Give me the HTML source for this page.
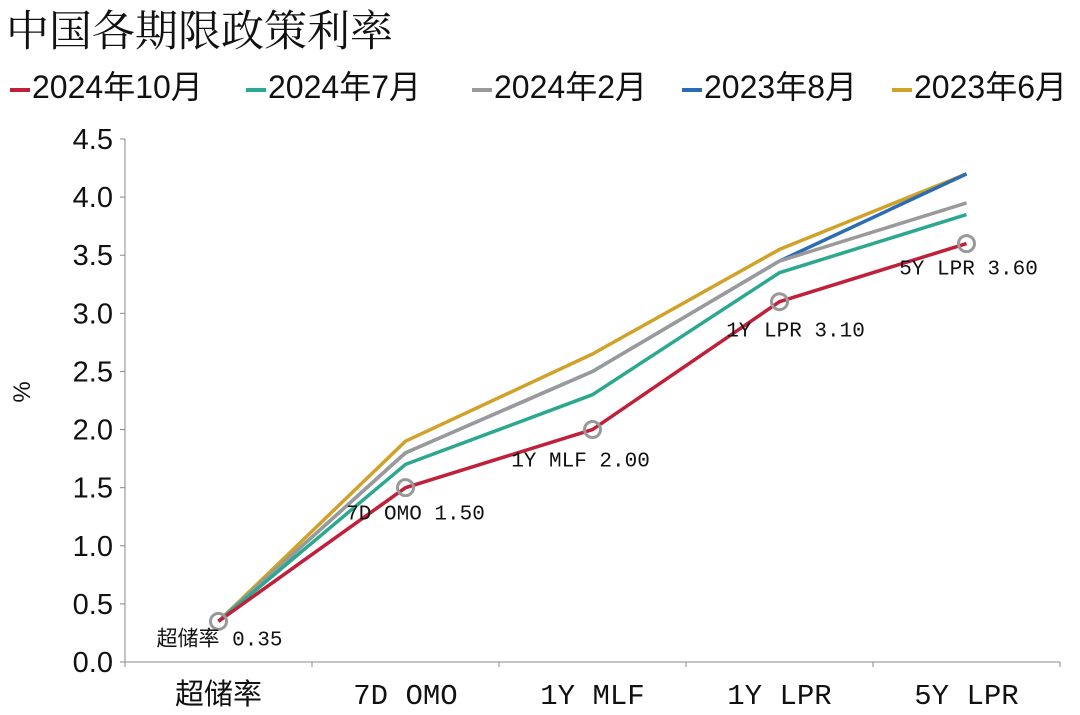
<!DOCTYPE html>
<html><head><meta charset="utf-8">
<style>
body{margin:0;background:#fff;width:1080px;height:715px;overflow:hidden;font-family:"Liberation Sans","Noto Sans CJK SC",sans-serif;}
#title{position:absolute;left:6px;top:-2px;font-size:43px;color:#111;font-family:"Noto Serif CJK SC","Noto Sans CJK SC",serif;}
#legend{position:absolute;left:10px;top:62px;font-size:32px;color:#111;white-space:nowrap;}
.li{position:absolute;top:0;}
.sw{display:inline-block;width:20px;height:4px;vertical-align:middle;margin-right:2px;}
</style></head><body>
<div id="title">中国各期限政策利率</div>
<div id="legend"></div>
<svg id="chart" width="1080" height="715" style="position:absolute;left:0;top:0"></svg>
<script>
const categories=["超储率","7D OMO","1Y MLF","1Y LPR","5Y LPR"];
const seriesNames=["2024年10月","2024年7月","2024年2月","2023年8月","2023年6月"];
const s202410=[0.35,1.5,2.0,3.1,3.6];
const s202407=[0.35,1.7,2.3,3.35,3.85];
const s202402=[0.35,1.8,2.5,3.45,3.95];
const s202308=[0.35,1.8,2.5,3.45,4.2];
const s202306=[0.35,1.9,2.65,3.55,4.2];
const colors=["#C0203A","#2BA88F","#9A9A9A","#2C6CB5","#D1A22A"];
const yTicks=["0.0","0.5","1.0","1.5","2.0","2.5","3.0","3.5","4.0","4.5"];
const annotations=["超储率 0.35","7D OMO 1.50","1Y MLF 2.00","1Y LPR 3.10","5Y LPR 3.60"];
const allSeries=[s202410,s202407,s202402,s202308,s202306];
const NS="http://www.w3.org/2000/svg";
const svg=document.getElementById('chart');
const x0=125,x1=1060,y0=662,yTop=139;
const xs=i=>x0+(i+0.5)*(x1-x0)/categories.length;
const ys=v=>y0-(v/4.5)*(y0-yTop);
function mk(t,a){const e=document.createElementNS(NS,t);for(const k in a)e.setAttribute(k,a[k]);svg.appendChild(e);return e;}
let ax=mk('line',{x1:x0,y1:y0,x2:x1,y2:y0,stroke:'#888','stroke-width':1});

let ay=mk('line',{x1:x0,y1:yTop,x2:x0,y2:y0,stroke:'#888','stroke-width':1});

yTicks.forEach(t=>{const y=ys(parseFloat(t));
 mk('line',{x1:x0-5,y1:y,x2:x0,y2:y,stroke:'#888'});
 const tx=mk('text',{x:x0-12,y:y+10,'text-anchor':'end','font-size':29,fill:'#111'});tx.textContent=t;
 });
for(let i=0;i<=categories.length;i++){const x=x0+i*(x1-x0)/categories.length;mk('line',{x1:x,y1:y0,x2:x,y2:y0+5,stroke:'#888'});}
categories.forEach((c,i)=>{const t=mk('text',{x:xs(i),y:704,'text-anchor':'middle','font-size':29,fill:'#111','font-family':'"Liberation Mono","Noto Sans CJK SC",monospace'});t.textContent=c;
 });
const yl=mk('text',{x:30,y:392,'text-anchor':'middle','font-size':24,fill:'#111',transform:'rotate(-90 30 392)'});yl.textContent='%';

for(let k=allSeries.length-1;k>=0;k--){
 const p=mk('polyline',{points:allSeries[k].map((v,i)=>xs(i)+','+ys(v)).join(' '),fill:'none',stroke:colors[k],'stroke-width':3.5,'stroke-linejoin':'round'});
 }
const offs=[[1,24],[10,32],[-12,37],[16,35],[2,31]];
s202410.forEach((v,i)=>{const c=mk('circle',{cx:xs(i),cy:ys(v),r:8,fill:'none',stroke:'#999','stroke-width':3});
 
 const t=mk('text',{x:xs(i)+offs[i][0],y:ys(v)+offs[i][1],'text-anchor':'middle','font-size':21,fill:'#111','font-family':'"Liberation Mono","Noto Sans CJK SC",monospace'});t.textContent=annotations[i];
 });
const lg=document.getElementById('legend');
const legX=[0,236,462,672,882];
seriesNames.forEach((n,i)=>{const d=document.createElement('span');d.className='li';
 
 
 d.style.left=legX[i]+'px';
 d.innerHTML='<span class="sw" style="background:'+colors[i]+'"></span>'+n;lg.appendChild(d);});
</script>
</body></html>
